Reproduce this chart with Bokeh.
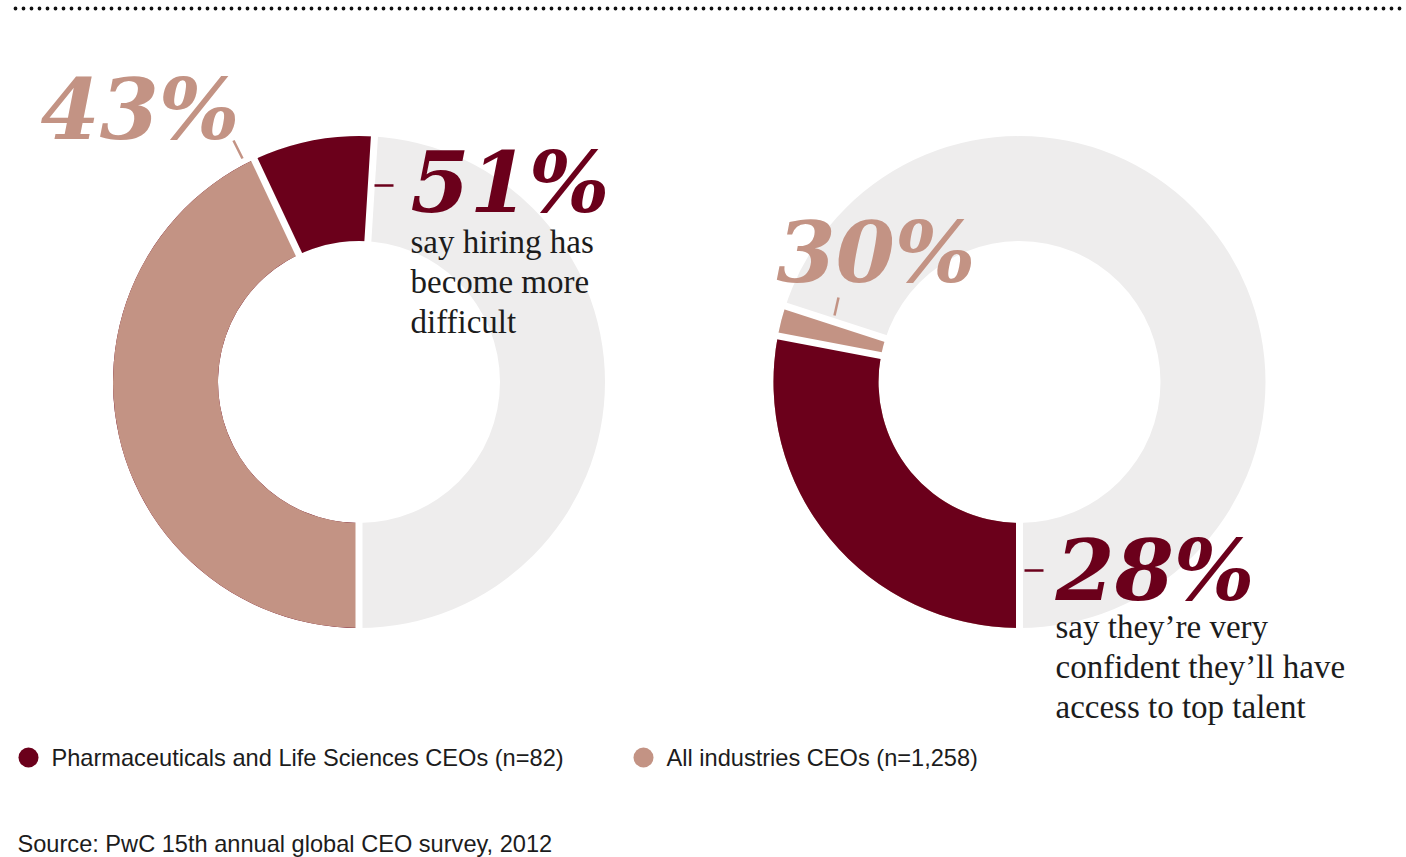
import numpy as np
from bokeh.plotting import figure
from bokeh.models import Range1d
from bokeh.embed import file_html
from bokeh.resources import INLINE
from bokeh.core.properties import value

W, H = 1406, 857

# ---------------- data ----------------
questions = [
    ["say hiring has", "become more", "difficult"],
    ["say they\u2019re very", "confident they\u2019ll have", "access to top talent"],
]
pharma = [51, 28]     # Pharmaceuticals and Life Sciences CEOs, %
all_ind = [43, 30]    # All industries CEOs, %
series_names = ["Pharmaceuticals and Life Sciences CEOs (n=82)", "All industries CEOs (n=1,258)"]
source_note = "Source: PwC 15th annual global CEO survey, 2012"

# ---------------- style / layout ----------------
DARK = "#6b001b"
TAN = "#c39384"
GREY = "#eeeded"
INK = "#1c1c1c"

cx = [358.5, 1019.0]          # donut centres (px)
cy_px = 381.5
R_OUT, R_IN = 246.0, 141.0
GAP = 7

# label anchor positions (px)
pharma_lbl = [(410, 181), (1055, 569)]
all_lbl = [(40, 108), (776, 251)]
dash = [((374, 185), (393, 185)), ((1024, 570), (1043, 570))]
leader = [((233, 140), (242, 158)), ((838, 297), (834, 315))]
body_xy = [(410, 241), (1055, 626)]
LINE_STEP = 40


def Y(py):
    return H - py


p = figure(width=W, height=H, x_range=Range1d(0, W), y_range=Range1d(0, H),
           output_backend="svg", toolbar_location=None, min_border=0,
           x_axis_location=None, y_axis_location=None)
p.grid.visible = False
p.outline_line_color = None
p.background_fill_color = "white"
p.border_fill_color = "white"

# dotted rule at top
p.line(x=[15, W], y=[Y(8), Y(8)], line_color="#111111",
       line_width=3.8, line_dash="0 8", line_cap="round")


def ang(f):
    return np.pi / 2 + 2 * np.pi * f


for i in range(2):
    c = cx[i]
    cy = Y(cy_px)
    # grey full ring
    p.annular_wedge(x=[c], y=[cy], inner_radius=R_IN, outer_radius=R_OUT,
                    start_angle=0, end_angle=2 * np.pi, color=GREY, line_color=None)
    vals = [(pharma[i], DARK), (all_ind[i], TAN)]
    vals.sort(key=lambda t: -t[0])
    for v, col in vals:
        p.annular_wedge(x=[c], y=[cy], inner_radius=R_IN, outer_radius=R_OUT,
                        start_angle=ang(0.5 - v / 100), end_angle=ang(0.5),
                        color=col, line_color=None)
    # white gaps
    bounds = [0.5, 0.5 - pharma[i] / 100, 0.5 - all_ind[i] / 100]
    a = np.array([ang(f) for f in bounds])
    r0, r1 = R_IN - 3, R_OUT + 3
    p.segment(x0=c + r0 * np.cos(a), y0=cy + r0 * np.sin(a),
              x1=c + r1 * np.cos(a), y1=cy + r1 * np.sin(a),
              line_color="white", line_width=GAP)

    # big percentages
    (px_, py_) = pharma_lbl[i]
    p.text(x=[px_], y=[Y(py_)], text=[f"{pharma[i]}%"], text_color=DARK,
           text_font=value("DejaVu Serif"), text_font_size="85px",
           text_font_style="bold italic", text_baseline="alphabetic", text_align="left")
    (ax_, ay_) = all_lbl[i]
    p.text(x=[ax_], y=[Y(ay_)], text=[f"{all_ind[i]}%"], text_color=TAN,
           text_font=value("DejaVu Serif"), text_font_size="85px",
           text_font_style="bold italic", text_baseline="alphabetic", text_align="left")
    (d0, d1) = dash[i]
    p.segment(x0=[d0[0]], y0=[Y(d0[1])], x1=[d1[0]], y1=[Y(d1[1])],
              line_color=DARK, line_width=2.5)
    (l0, l1) = leader[i]
    p.segment(x0=[l0[0]], y0=[Y(l0[1])], x1=[l1[0]], y1=[Y(l1[1])],
              line_color=TAN, line_width=2.5)
    bx, by = body_xy[i]
    for k, line in enumerate(questions[i]):
        p.text(x=[bx], y=[Y(by + k * LINE_STEP)], text=[line], text_color=INK,
               text_font=value("Liberation Serif"), text_font_size="33px",
               text_baseline="alphabetic", text_align="left")

# legend
leg_x = [28, 643]
leg_cols = [DARK, TAN]
for j in range(2):
    p.scatter(x=[leg_x[j]], y=[Y(757)], size=20, marker="circle",
              fill_color=leg_cols[j], line_color=None)
    p.text(x=[leg_x[j] + 23], y=[Y(757)], text=[series_names[j]], text_color=INK,
           text_font=value("Liberation Sans"), text_font_size="23.6px",
           text_baseline="middle", text_align="left")

p.text(x=[17], y=[Y(843)], text=[source_note], text_color=INK,
       text_font=value("Liberation Sans"), text_font_size="23.6px",
       text_baseline="middle", text_align="left")

open("out.html", "w").write(file_html(p, INLINE))
